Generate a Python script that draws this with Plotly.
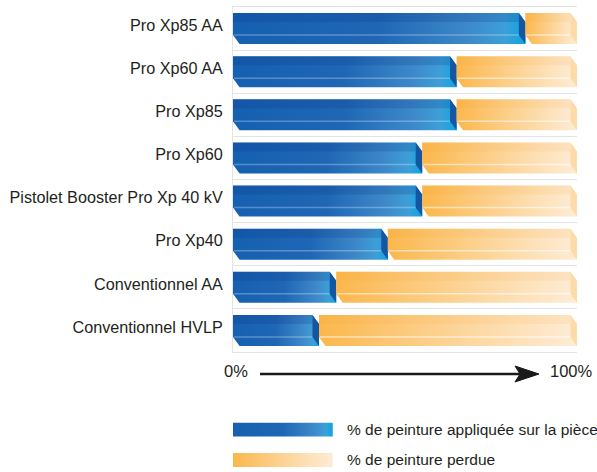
import plotly.graph_objects as go

# ---------------- data ----------------
categories = [
    "Pro Xp85 AA",
    "Pro Xp60 AA",
    "Pro Xp85",
    "Pro Xp60",
    "Pistolet Booster Pro Xp 40 kV",
    "Pro Xp40",
    "Conventionnel AA",
    "Conventionnel HVLP",
]
applied = [85, 65, 65, 55, 55, 45, 30, 25]   # % de peinture appliquée sur la pièce
lost = [15, 35, 35, 45, 45, 55, 70, 75]      # % de peinture perdue
axis_labels = ["0%", "100%"]
legend_labels = ["% de peinture appliquée sur la pièce", "% de peinture perdue"]

# ---------------- style ----------------
FONT = "Liberation Sans, Arial, Helvetica, sans-serif"
TXT = "#231f20"
HB = 0.36   # half bar thickness (y units)
DX = 1.9    # bevel depth (x units)
DY = 0.21   # bevel depth (y units)
LABEL_SHIFT = -0.08

BLUE_SCALE = [[0, "#1660b1"], [0.5, "#1f67b5"], [0.8, "#3d88c9"], [0.93, "#3d9fd8"], [1, "#0ba6e2"]]
ORANGE_SCALE = [[0, "#fbb74c"], [0.3, "#fcc878"], [0.75, "#fde0b6"], [1, "#feecd6"]]
W, H = 597, 472
ML, MR, MT, MB = 233, 20, 7, 4
PH = H - MT - MB
PW = W - ML - MR


def px_x(p):
    return (p - ML) / PW


def px_y(p):
    return (H - MB - p) / PH


fig = go.Figure()


def poly(xs, ys, xa="x", ya="y", **kw):
    fig.add_trace(go.Scatter(
        x=list(xs) + [xs[0]], y=list(ys) + [ys[0]], mode="lines", fill="toself",
        line=dict(width=0), hoverinfo="skip", showlegend=False,
        xaxis=xa, yaxis=ya, **kw))


def bar3d(x0, x1, c, scale, face, band, line_col):
    top, bot = c - HB, c + HB
    poly([x0, x1 - DX, x1, x1, x0 + DX, x0],
         [top, top, top + DY, bot, bot, bot - DY],
         fillgradient=dict(type="horizontal", colorscale=scale))
    poly([x0, x1 - DX, x1 - DX, x0], [top, top, top + DY, top + DY], fillcolor=band)
    poly([x1 - DX, x1, x1, x1 - DX], [top, top + DY, bot, bot - DY], fillcolor=face)
    fig.add_trace(go.Scatter(x=[x0 + 0.3, x1 - DX], y=[bot - DY, bot - DY], mode="lines",
                             line=dict(color=line_col, width=1.5), hoverinfo="skip",
                             showlegend=False))


for i, (a, l) in enumerate(zip(applied, lost)):
    bar3d(0, a, i, BLUE_SCALE, "#1556a3", "rgba(10,50,130,0.20)", "rgba(255,255,255,0.28)")
    bar3d(a, a + l, i, ORANGE_SCALE, "#fcdba8", "rgba(245,160,40,0.10)", "rgba(255,255,255,0.55)")

# legend swatches (secondary axes, pixel-like units)
poly([0, 29, 29, 0], [4.7, 4.7, 18.5, 18.5], xa="x2", ya="y2",
     fillgradient=dict(type="horizontal", colorscale=BLUE_SCALE))
poly([0, 29, 29, 0], [35, 35, 49, 49], xa="x2", ya="y2",
     fillgradient=dict(type="horizontal", colorscale=ORANGE_SCALE))

annotations = [
    dict(text=axis_labels[0], x=px_x(235.5), y=px_y(371), xref="paper", yref="paper",
         xanchor="center", yanchor="middle", showarrow=False, font=dict(size=16.5, family=FONT, color=TXT)),
    dict(text=axis_labels[1], x=px_x(571.5), y=px_y(371), xref="paper", yref="paper",
         xanchor="center", yanchor="middle", showarrow=False, font=dict(size=16.5, family=FONT, color=TXT)),
    dict(text=legend_labels[0], x=px_x(345), y=px_y(429), xref="paper", yref="paper",
         xanchor="left", yanchor="middle", showarrow=False, font=dict(size=15.5, family=FONT, color=TXT)),
    dict(text=legend_labels[1], x=px_x(345), y=px_y(459), xref="paper", yref="paper",
         xanchor="left", yanchor="middle", showarrow=False, font=dict(size=15.5, family=FONT, color=TXT)),
]

ay = px_y(374)
hh = 8 / PH
shapes = [
    dict(type="line", xref="paper", yref="paper", x0=px_x(260), x1=px_x(522), y0=ay, y1=ay,
         line=dict(color="#1a1a1a", width=2.5)),
    dict(type="path", xref="paper", yref="paper",
         path=f"M {px_x(515)},{ay + hh} L {px_x(539)},{ay} L {px_x(515)},{ay - hh} L {px_x(520)},{ay} Z",
         fillcolor="#1a1a1a", line=dict(color="#1a1a1a", width=1)),
]

fig.update_layout(
    width=W, height=H,
    margin=dict(l=ML, r=MR, t=MT, b=MB, autoexpand=False),
    paper_bgcolor="white", plot_bgcolor="white",
    showlegend=False,
    font=dict(family=FONT, color=TXT),
    xaxis=dict(domain=[0, 1], range=[0, 100], showgrid=False, zeroline=False,
               showticklabels=False, ticks="", showline=True, mirror=True,
               linecolor="#e3e3e3", linewidth=1, anchor="y", fixedrange=True,
               automargin=False),
    yaxis=dict(domain=[px_y(352), 1], range=[7.5, -0.5], tickmode="array",
               tickvals=[i + LABEL_SHIFT for i in range(len(categories))], ticktext=categories,
               ticks="", ticklabelstandoff=6, tickfont=dict(size=16.2, family=FONT, color=TXT),
               showgrid=False, zeroline=False, showline=True, linecolor="#e3e3e3",
               minor=dict(tickmode="linear", tick0=0.5, dtick=1, showgrid=True,
                          gridcolor="#e3e3e3", gridwidth=1, ticks=""),
               anchor="x", fixedrange=True, automargin=False),
    xaxis2=dict(domain=[0, 1], range=[0, 100], anchor="y2", visible=False),
    yaxis2=dict(domain=[0, 50 / PH], range=[50, 0], anchor="x2", visible=False),
    annotations=annotations,
    shapes=shapes,
)

fig.write_html("out.html", config={"displayModeBar": False},
               post_script="document.body.style.margin='0';")
